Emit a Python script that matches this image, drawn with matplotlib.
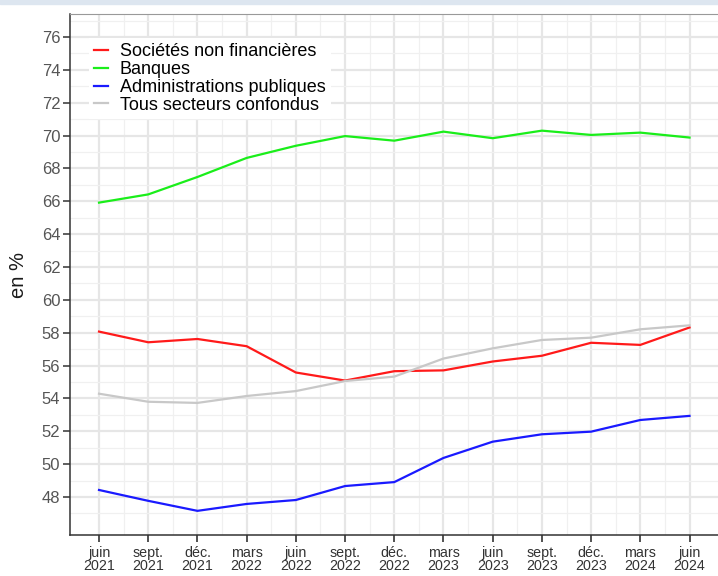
import numpy as np
import matplotlib.pyplot as plt
from matplotlib.patches import Rectangle

plt.rcParams['font.family'] = ['Liberation Sans', 'DejaVu Sans']

# Data
dates = ['juin\n2021', 'sept.\n2021', 'déc.\n2021', 'mars\n2022', 'juin\n2022',
         'sept.\n2022', 'déc.\n2022', 'mars\n2023', 'juin\n2023', 'sept.\n2023',
         'déc.\n2023', 'mars\n2024', 'juin\n2024']
snf = [58.07, 57.42, 57.62, 57.18, 55.58, 55.09, 55.66, 55.71, 56.25, 56.6, 57.39, 57.26, 58.32]
banques = [65.92, 66.42, 67.48, 68.64, 69.38, 69.97, 69.69, 70.24, 69.84, 70.3, 70.04, 70.18, 69.88]
apu = [48.43, 47.77, 47.16, 47.58, 47.82, 48.67, 48.91, 50.38, 51.37, 51.82, 51.98, 52.69, 52.94]
total = [54.29, 53.8, 53.73, 54.15, 54.45, 55.06, 55.33, 56.43, 57.05, 57.56, 57.7, 58.21, 58.45]

series = [
    ('Sociétés non financières', snf, '#ff1a1a'),
    ('Banques', banques, '#1aee1a'),
    ('Administrations publiques', apu, '#1a1aff'),
    ('Tous secteurs confondus', total, '#c8c8c8'),
]

fig = plt.figure(figsize=(7.18, 5.76), dpi=100)
fig.patches.append(Rectangle((0, 1 - 4 / 576), 1, 4 / 576, transform=fig.transFigure,
                             color='#dde6f0', zorder=0))

ax = fig.add_axes([70 / 718, 1 - 535 / 576, 652 / 718, 521 / 576])
x = np.arange(len(dates))

# grid
ax.set_xticks(x)
ax.set_xticks(x[:-1] + 0.5, minor=True)
ax.set_yticks(np.arange(48, 77, 2))
ax.set_yticks(np.arange(47, 78, 2), minor=True)
ax.grid(which='major', color='#e6e6e6', linewidth=1.6)
ax.grid(which='minor', color='#f0f0f0', linewidth=0.9)
ax.set_axisbelow(True)

for name, vals, col in series:
    ax.plot(x, vals, color=col, linewidth=1.6, label=name)

ax.set_xlim(-0.59, 12.66)
ax.set_ylim(45.69, 77.4)

ax.set_xticklabels(dates, fontsize=10.3, color='#333333', linespacing=0.92)
ax.tick_params(axis='y', labelsize=12, labelcolor='#555555', color='#333333',
               length=5, width=1.1, pad=2)
ax.tick_params(axis='x', color='#333333', length=5, width=1.2, pad=3)
ax.tick_params(which='minor', length=0)

for s in ['left', 'bottom']:
    ax.spines[s].set_color('#333333')
    ax.spines[s].set_linewidth(1.1)
ax.spines['top'].set_color('#999999')
ax.spines['right'].set_visible(False)

ax.set_ylabel('en %', fontsize=14.5, color='#1a1a1a', labelpad=10)

leg = ax.legend(loc='upper left', bbox_to_anchor=(0.015, 0.972), frameon=True,
                fontsize=13, handlelength=0.75, handletextpad=0.65,
                labelspacing=0.05, borderpad=0.3, fancybox=False)
leg.get_frame().set_edgecolor('none')
leg.get_frame().set_facecolor('white')
leg.get_frame().set_alpha(1)

fig.savefig('out.png', dpi=100)
